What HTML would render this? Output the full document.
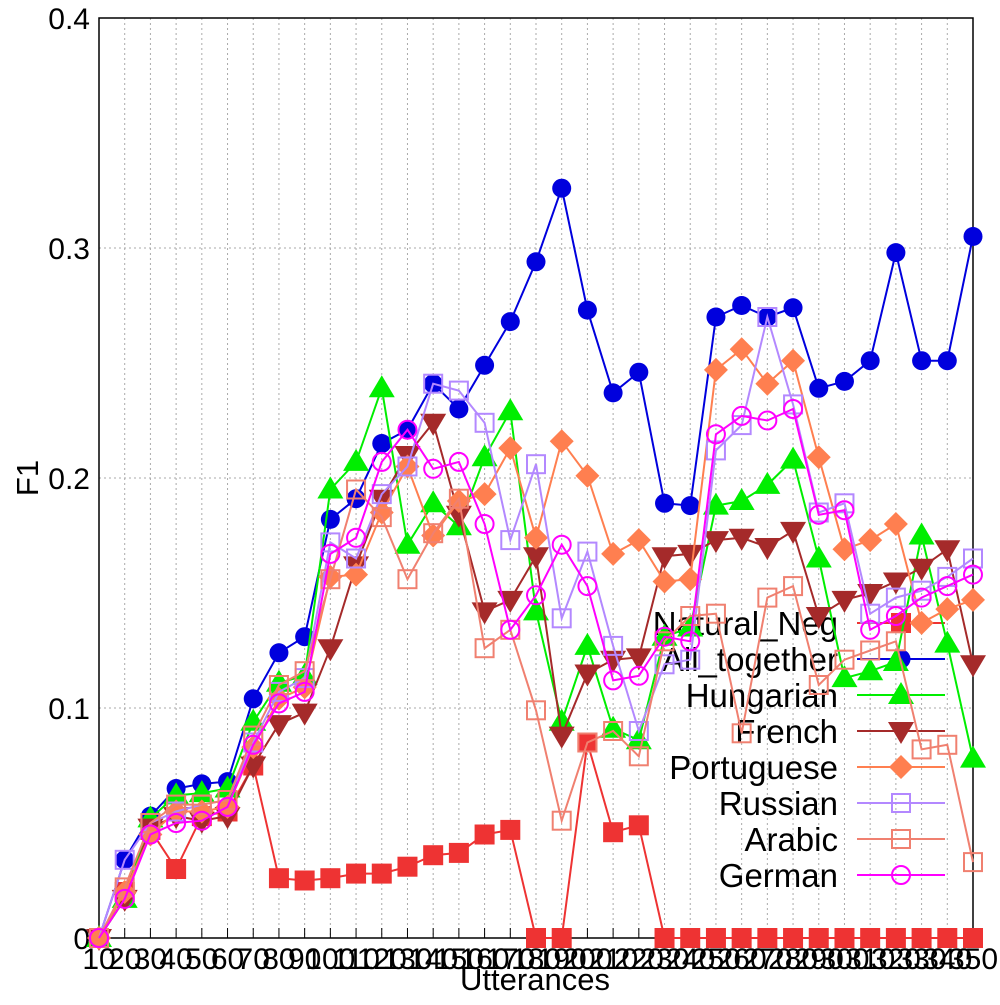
<!DOCTYPE html>
<html><head><meta charset="utf-8"><style>
html,body{margin:0;padding:0;background:#fff;}
svg text{font-family:"Liberation Sans",Arial,sans-serif;fill:#000;}
</style></head><body>
<svg id="chart" width="1000" height="1000" viewBox="0 0 1000 1000" xmlns="http://www.w3.org/2000/svg">
<rect width="1000" height="1000" fill="#fff"/>
<g id="grid"></g><g id="axes"></g><g id="legend"></g><g id="series"></g>
</svg>
<script>
const categories = [10,20,30,40,50,60,70,80,90,100,110,120,130,140,150,160,170,180,190,200,210,220,230,240,250,260,270,280,290,300,310,320,330,340,350];
const yTicks = [0,0.1,0.2,0.3,0.4];
const yTickLabels = ["0","0.1","0.2","0.3","0.4"];
const naturalNeg = [0,.02,.047,.03,.053,.055,.075,.026,.025,.026,.028,.028,.031,.036,.037,.045,.047,0,0,.085,.046,.049,0,0,0,0,0,0,0,0,0,0,0,0,0];
const allTogether = [0,.034,.053,.065,.067,.068,.104,.124,.131,.182,.191,.215,.221,.241,.230,.249,.268,.294,.326,.273,.237,.246,.189,.188,.270,.275,.270,.274,.239,.242,.251,.298,.251,.251,.305];
const hungarian = [0,.017,.052,.062,.063,.065,.094,.111,.114,.195,.207,.239,.171,.189,.179,.209,.229,.142,.094,.127,.091,.086,.131,.135,.188,.190,.197,.208,.165,.113,.116,.120,.175,.128,.078];
const french = [0,.017,.048,.053,.051,.053,.075,.093,.098,.126,.162,.191,.210,.224,.184,.142,.147,.166,.088,.115,.121,.122,.166,.167,.173,.174,.170,.177,.140,.147,.150,.155,.161,.169,.119];
const portuguese = [0,.02,.045,.055,.055,.057,.083,.104,.109,.157,.158,.185,.205,.175,.190,.193,.213,.174,.216,.201,.167,.173,.155,.156,.247,.256,.241,.251,.209,.169,.173,.180,.137,.143,.147];
const russian = [0,.034,.05,.055,.058,.06,.085,.107,.113,.172,.165,.193,.205,.241,.238,.224,.173,.206,.139,.168,.127,.09,.119,.121,.212,.223,.270,.232,.185,.189,.141,.148,.151,.157,.165];
const arabic = [0,.022,.05,.058,.058,.06,.088,.11,.116,.156,.195,.183,.156,.176,.191,.126,.134,.099,.051,.085,.090,.079,.129,.140,.141,.089,.148,.153,.110,.121,.125,.129,.082,.084,.033];
const german = [0,.017,.045,.05,.051,.057,.084,.102,.107,.167,.174,.207,.221,.204,.207,.180,.134,.149,.171,.153,.112,.114,.131,.129,.219,.227,.225,.230,.184,.186,.134,.140,.148,.153,.158];
const seriesNames = ["Natural_Neg","All_together","Hungarian","French","Portuguese","Russian","Arabic","German"];

const NS="http://www.w3.org/2000/svg";
const L=99,R=973,T=18,B=938;
function xPos(i){return L+(R-L)*i/(categories.length-1);}
function yPos(v){return B-(B-T)*v/0.4;}
function mk(tag,attrs,parent){const e=document.createElementNS(NS,tag);for(const k in attrs)e.setAttribute(k,attrs[k]);parent.appendChild(e);return e;}
const grid=document.getElementById('grid'),axes=document.getElementById('axes'),legend=document.getElementById('legend'),sg=document.getElementById('series');

categories.forEach((c,i)=>{
  const x=xPos(i);
  if(i>0&&i<categories.length-1){const g=mk('line',{x1:x,y1:T,x2:x,y2:B,stroke:'#aaa','stroke-width':1,'stroke-dasharray':'2,3'},grid);
  
  }
  const tk=mk('line',{x1:x,y1:B,x2:x,y2:B-10,stroke:'#000','stroke-width':1},axes);
  
  
  const t=mk('text',{x:x,y:969,'font-size':30,'text-anchor':'middle'},axes);
  t.textContent=c;
  
  
});
yTicks.forEach((v,i)=>{
  const y=yPos(v);
  if(v>0&&v<0.4){const g=mk('line',{x1:L,y1:y,x2:R,y2:y,stroke:'#aaa','stroke-width':1,'stroke-dasharray':'2,3'},grid);
  
  }
  const t=mk('text',{x:90,y:y+11,'font-size':30,'text-anchor':'end'},axes);
  t.textContent=yTickLabels[i];
  
  
});
const fr=mk('rect',{x:L,y:T,width:R-L,height:B-T,fill:'none',stroke:'#000','stroke-width':1.5},axes);


const xt=mk('text',{x:535,y:990,'font-size':31,'text-anchor':'middle'},axes);
xt.textContent='Utterances';


const yt=mk('text',{x:38,y:478,'font-size':31,'text-anchor':'middle',transform:'rotate(-90 38 478)'},axes);
yt.textContent='F1';



function marker(type,color,x,y,parent){
  let e;
  if(type==='fsq') e=mk('rect',{x:x-10,y:y-10,width:20,height:20,fill:color},parent);
  else if(type==='osq') e=mk('rect',{x:x-9,y:y-9,width:18,height:18,fill:'none',stroke:color,'stroke-width':2},parent);
  else if(type==='fci') e=mk('circle',{cx:x,cy:y,r:9.5,fill:color},parent);
  else if(type==='oci') e=mk('circle',{cx:x,cy:y,r:9,fill:'none',stroke:color,'stroke-width':2},parent);
  else if(type==='tup') e=mk('polygon',{points:`${x},${y-13} ${x-13},${y+9} ${x+13},${y+9}`,fill:color},parent);
  else if(type==='tdn') e=mk('polygon',{points:`${x},${y+13} ${x-13},${y-9} ${x+13},${y-9}`,fill:color},parent);
  else if(type==='dia') e=mk('polygon',{points:`${x},${y-12} ${x+12},${y} ${x},${y+12} ${x-12},${y}`,fill:color},parent);
  return e;
}
const defs=[
  {name:'natural-neg',data:naturalNeg,color:'#ee3333',m:'fsq'},
  {name:'all-together',data:allTogether,color:'#0000dd',m:'fci'},
  {name:'hungarian',data:hungarian,color:'#00ee00',m:'tup'},
  {name:'french',data:french,color:'#a52a2a',m:'tdn'},
  {name:'portuguese',data:portuguese,color:'#ff7f50',m:'dia'},
  {name:'russian',data:russian,color:'#b388ff',m:'osq'},
  {name:'arabic',data:arabic,color:'#f08070',m:'osq'},
  {name:'german',data:german,color:'#ff00ff',m:'oci'}
];
defs.forEach((d,k)=>{
  const ly=623+36*k;
  const lt=mk('text',{x:838,y:ly+12,'font-size':33,'text-anchor':'end'},legend);
  lt.textContent=seriesNames[k];
  
  
});
defs.forEach((d,k)=>{
  const g=mk('g',{},sg);
  
  
  const pts=d.data.map((v,i)=>xPos(i)+','+yPos(v)).join(' ');
  const pl=mk('polyline',{points:pts,fill:'none',stroke:d.color,'stroke-width':2},g);
  
  
  d.data.forEach((v,i)=>{
    const m=marker(d.m,d.color,xPos(i),yPos(v),g);
    
    
  });
  const ly=623+36*k;
  const ls=mk('line',{x1:857,y1:ly,x2:945,y2:ly,stroke:d.color,'stroke-width':2},g);
  
  
  const lm=marker(d.m,d.color,901,ly,g);
  
  
});
</script>
</body></html>
